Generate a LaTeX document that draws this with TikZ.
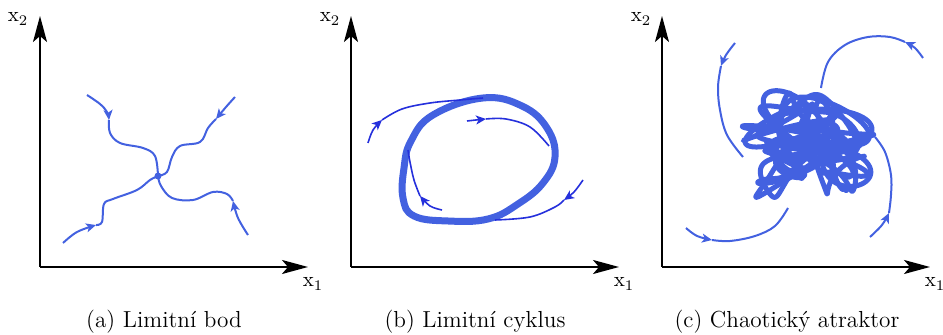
\documentclass[tikz,border=0pt]{standalone}
\usepackage{tikz}
\usetikzlibrary{arrows.meta}
\definecolor{traj}{HTML}{4361E0}
\definecolor{trajD}{HTML}{2530DC}
\definecolor{axisK}{HTML}{000000}

\begin{document}
\begin{tikzpicture}[x=0.5pt, y=-0.5pt,
  osa/.style={line width=1pt, color=axisK, -{Stealth[length=13pt, width=7pt, inset=3pt]}},
  ax/.style={font=\fontsize{10.5}{13}\selectfont},
  popis/.style={font=\fontsize{11.6}{14}\selectfont},
  trj/.style={line width=1pt, color=traj},
  trjd/.style={line width=0.8pt, color=trajD},
  hrot/.style={-{Stealth[length=5pt, width=4.5pt, inset=1.3pt]}},
  cyk/.style={line width=3.5pt, color=traj},
  chaos/.style={line width=2.5pt, color=traj, line join=round, line cap=round}]
\useasboundingbox (0,0) rectangle (943,335);
\coordinate (oa) at (40,267);
\coordinate (ob) at (351,267);
\coordinate (oc) at (662,267);
\coordinate (ta) at (40,16);
\coordinate (tb) at (351,16);
\coordinate (tc) at (662,16);
\coordinate (ra) at (308,267);
\coordinate (rb) at (619,267);
\coordinate (rc) at (930,267);
\draw[osa] (oa) -- (ta);
\draw[osa] (oa) -- (ra);
\draw[osa] (ob) -- (tb);
\draw[osa] (ob) -- (rb);
\draw[osa] (oc) -- (tc);
\draw[osa] (oc) -- (rc);
\node[ax] (xa2) at (18,19) {x\textsubscript{2}};
\node[ax] (xa1) at (313,284) {x\textsubscript{1}};
\node[ax] (xb2) at (330,19) {x\textsubscript{2}};
\node[ax] (xb1) at (624,284) {x\textsubscript{1}};
\node[ax] (xc2) at (641,19) {x\textsubscript{2}};
\node[ax] (xc1) at (935,284) {x\textsubscript{1}};
\node[popis] (capa) at (164,322) {(a) Limitní bod};
\node[popis] (capb) at (475,322) {(b) Limitní cyklus};
\node[popis] (capc) at (787,322) {(c) Chaotický atraktor};
% (a)
\coordinate (bod) at (158,176);
\draw[trj, hrot] plot[smooth, tension=0.6] coordinates {(87,95) (100,104) (107,112) (109,120)};
\draw[trj] plot[smooth, tension=0.6] coordinates {(109,120) (110,133) (120,143) (143,148) (155,156) (158,176)};
\draw[trj, hrot] plot[smooth, tension=0.6] coordinates {(235,97) (226,107) (216,119)};
\draw[trj] plot[smooth, tension=0.6] coordinates {(216,119) (208,128) (200,142) (180,146) (172,157) (167,172) (158,176)};
\draw[trj, hrot] plot[smooth, tension=0.6] coordinates {(63,243) (77,232) (96,225)};
\draw[trj] plot[smooth, tension=0.6] coordinates {(96,225) (102,222) (104,204) (113,199) (137,190) (150,180) (158,176)};
\draw[trj, hrot] plot[smooth, tension=0.6] coordinates {(248,235) (238,218) (233,201)};
\draw[trj] plot[smooth, tension=0.6] coordinates {(233,201) (227,194) (213,192) (193,200) (172,198) (161,186) (158,176)};
\fill[traj] (bod) circle (3.5);
% (b)
\draw[cyk] plot[smooth cycle, tension=0.7] coordinates {(483,98) (522,106) (547,128) (555,157) (543,183) (518,204) (488,219) (448,221) (414,216) (403,198) (404,168) (411,141) (433,115)};
\draw[trjd, hrot] plot[smooth, tension=0.6] coordinates {(368,143) (373,130) (382,120)};
\draw[trjd] plot[smooth, tension=0.6] coordinates {(382,120) (402,109) (430,103) (460,100) (483,98)};
\draw[trjd, hrot] plot[smooth, tension=0.6] coordinates {(467,121) (476,120) (486,119)};
\draw[trjd] plot[smooth, tension=0.6] coordinates {(486,119) (506,119) (530,127) (549,146)};
\draw[trjd, hrot] plot[smooth, tension=0.6] coordinates {(442,210) (430,206) (420,196)};
\draw[trjd] plot[smooth, tension=0.6] coordinates {(420,196) (414,180) (410,162) (408,150)};
\draw[trjd, hrot] plot[smooth, tension=0.6] coordinates {(583,180) (574,192) (564,200)};
\draw[trjd] plot[smooth, tension=0.6] coordinates {(564,200) (555,207) (530,217) (495,220)};
% (c)
\foreach \f in {0,50,100}
  \draw[chaos] plot[domain=0:500, samples=900, variable=\u] ({810+34*sin(3*\u+\f)+22*sin(7.3*\u+30+2*\f)+12*cos(11.1*\u+3*\f)}, {145+27*cos(2.1*\u+\f)+18*sin(5.7*\u+2*\f)+10*sin(9.7*\u+60+\f)});
\draw[trj, hrot] plot[smooth, tension=0.6] coordinates {(735,43) (726,55) (721,66)};
\draw[trj] plot[smooth, tension=0.6] coordinates {(721,66) (718,87) (720,110) (727,135) (743,157)};
\draw[trj, hrot] plot[smooth, tension=0.6] coordinates {(923,58) (915,48) (905,42)};
\draw[trj] plot[smooth, tension=0.6] coordinates {(905,42) (890,37) (868,37) (845,45) (828,62) (821,88)};
\draw[trj, hrot] plot[smooth, tension=0.6] coordinates {(686,228) (697,236) (712,240)};
\draw[trj] plot[smooth, tension=0.6] coordinates {(712,240) (730,241) (755,236) (775,226) (788,208)};
\draw[trj, hrot] plot[smooth, tension=0.6] coordinates {(870,237) (882,225) (889,213)};
\draw[trj] plot[smooth, tension=0.6] coordinates {(889,213) (891,195) (891,175) (885,152) (875,137)};
\end{tikzpicture}
\end{document}
